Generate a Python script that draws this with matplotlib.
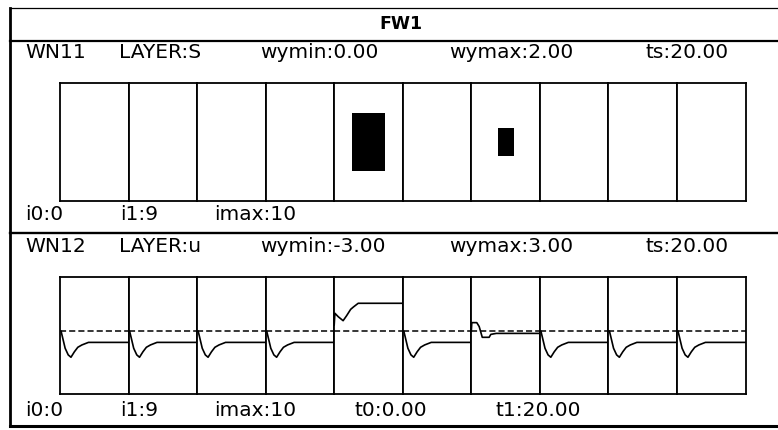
import matplotlib
matplotlib.use("Agg")
import matplotlib.pyplot as plt

W, H = 778, 430

title = "FW1"
n_cells = 10

# layer S (top window)
s_header = ["WN11", "LAYER:S", "wymin:0.00", "wymax:2.00", "ts:20.00"]
s_footer = ["i0:0", "i1:9", "imax:10"]
s_wymax = 2.0
s_values = [0, 0, 0, 0, 0.98, 0, 0.47, 0, 0, 0]

# layer u (bottom window)
u_header = ["WN12", "LAYER:u", "wymin:-3.00", "wymax:3.00", "ts:20.00"]
u_footer = ["i0:0", "i1:9", "imax:10", "t0:0.00", "t1:20.00"]
u_wymin, u_wymax = -3.0, 3.0
t0, t1 = 0.0, 20.0
u_ref = 0.22

t_rest = [0, 0.3, 0.7, 1.5, 2.4, 3.2, 4.2, 5.2, 6.4, 8.3, 20]
u_rest = [0.22, 0.22, -0.07, -0.66, -1.0, -1.12, -0.84, -0.61, -0.49, -0.36, -0.36]
t_cell4 = [0, 0.2, 1.2, 2.6, 3.6, 4.8, 5.6, 7.0, 20]
u_cell4 = [0.53, 1.13, 0.95, 0.75, 1.0, 1.33, 1.45, 1.64, 1.64]
t_cell6 = [0, 0.15, 1.6, 2.3, 3.2, 5.2, 5.7, 7.3, 20]
u_cell6 = [0.22, 0.65, 0.65, 0.45, -0.1, -0.1, 0.05, 0.1, 0.1]

trace_t = [t_rest] * 4 + [t_cell4, t_rest, t_cell6] + [t_rest] * 3
trace_u = [u_rest] * 4 + [u_cell4, u_rest, u_cell6] + [u_rest] * 3

# pixel layout
box_x0, box_x1 = 60, 745.5
s_y0, s_y1 = 83.3, 200.7
u_y0, u_y1 = 276.7, 394
header_x = [25, 119, 260, 449, 646]
footer_x = [25, 120, 214, 355, 496]
fs = 14.5
lw = 1.3


def px_rect(x0, y0, x1, y1):
    return [x0 / W, 1 - y1 / H, (x1 - x0) / W, (y1 - y0) / H]


fig = plt.figure(figsize=(W / 100, H / 100), dpi=100)
bg = fig.add_axes([0, 0, 1, 1])
bg.set_xlim(0, W)
bg.set_ylim(H, 0)
bg.axis("off")

# window frame
bg.plot([10.5, W + 5], [7.5, 7.5], c="black", lw=0.9)
bg.plot([10.5, W + 5], [41, 41], c="black", lw=1.6)
bg.plot([10.5, W + 5], [232.7, 232.7], c="black", lw=1.7)
bg.plot([10.5, W + 5], [426, 426], c="black", lw=2.2)
bg.plot([10.5, 10.5], [7.5, 426], c="black", lw=2.0)

bg.text(401, 24, title, ha="center", va="center", fontsize=12.5, fontweight="bold")
for x, s in zip(header_x, s_header):
    bg.text(x, 52, s, ha="left", va="center", fontsize=fs)
for x, s in zip(footer_x, s_footer):
    bg.text(x, 215, s, ha="left", va="center", fontsize=fs)
for x, s in zip(header_x, u_header):
    bg.text(x, 247, s, ha="left", va="center", fontsize=fs)
for x, s in zip(footer_x, u_footer):
    bg.text(x, 410, s, ha="left", va="center", fontsize=fs)

cw = (box_x1 - box_x0) / n_cells
for i in range(n_cells):
    cx0 = box_x0 + i * cw
    # S cell: filled square sized by value
    ax = fig.add_axes(px_rect(cx0, s_y0, cx0 + cw, s_y1))
    ax.set_xlim(-s_wymax / 2, s_wymax / 2)
    ax.set_ylim(-s_wymax / 2, s_wymax / 2)
    v = s_values[i]
    if v > 0:
        ax.bar(0, v, width=v, bottom=-v / 2, color="black")
    ax.set_xticks([])
    ax.set_yticks([])
    for sp in ax.spines.values():
        sp.set_linewidth(lw)

    # u cell: time course
    ax = fig.add_axes(px_rect(cx0, u_y0, cx0 + cw, u_y1))
    ax.set_xlim(t0, t1)
    ax.set_ylim(u_wymin, u_wymax)
    ax.axhline(u_ref, c="black", lw=1.1, ls=(0, (4, 2)))
    ax.plot(trace_t[i], trace_u[i], c="black", lw=1.2)
    ax.set_xticks([])
    ax.set_yticks([])
    for sp in ax.spines.values():
        sp.set_linewidth(lw)

fig.savefig("out.png", dpi=100)
